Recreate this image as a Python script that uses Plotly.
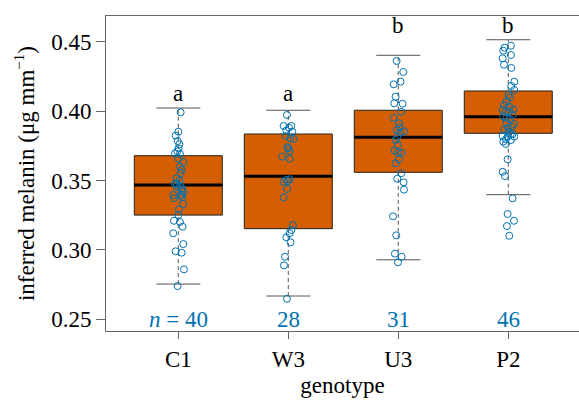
import plotly.graph_objects as go

# ---------------- data ----------------
genotypes = ["C1", "W3", "U3", "P2"]
letters = ["a", "a", "b", "b"]

q1 = [0.3251, 0.3153, 0.3559, 0.3840]
median = [0.3468, 0.3530, 0.3811, 0.3960]
q3 = [0.3679, 0.3835, 0.4006, 0.4145]
whisker_low = [0.2754, 0.2668, 0.2929, 0.3398]
whisker_high = [0.4022, 0.4006, 0.4402, 0.4514]

c1_values = [0.3991, 0.3852, 0.3823, 0.3785, 0.3761, 0.3732, 0.3696, 0.3691, 0.3660, 0.3633,
             0.3576, 0.3552, 0.3516, 0.3475, 0.3455, 0.3431, 0.3419, 0.3396, 0.3396, 0.3379,
             0.3372, 0.3331, 0.3293, 0.3251, 0.3210, 0.3201, 0.3167, 0.3120, 0.3042, 0.2990,
             0.2980, 0.2860, 0.2740, 0.3480, 0.3462, 0.3445, 0.3500, 0.3600, 0.3710, 0.3390]
w3_values = [0.3972, 0.3893, 0.3893, 0.3859, 0.3852, 0.3821, 0.3804, 0.3799, 0.3732, 0.3713,
             0.3672, 0.3657, 0.3509, 0.3491, 0.3496, 0.3439, 0.3379, 0.3179, 0.3143, 0.3120,
             0.3091, 0.3055, 0.2951, 0.2889, 0.2648, 0.3880, 0.3740, 0.3505]
u3_values = [0.4361, 0.4282, 0.4212, 0.4193, 0.4104, 0.4056, 0.4053, 0.3994, 0.3952, 0.3912,
             0.3883, 0.3864, 0.3854, 0.3847, 0.3816, 0.3792, 0.3756, 0.3715, 0.3703, 0.3700,
             0.3653, 0.3624, 0.3552, 0.3513, 0.3487, 0.3434, 0.3242, 0.3105, 0.2973, 0.2951,
             0.2911]
p2_values = [0.4471, 0.4457, 0.4435, 0.4404, 0.4380, 0.4334, 0.4311, 0.4212, 0.4181, 0.4152,
             0.4116, 0.4099, 0.4068, 0.4044, 0.4013, 0.4008, 0.3996, 0.3972, 0.3960, 0.3941,
             0.3916, 0.3907, 0.3888, 0.3864, 0.3852, 0.3835, 0.3821, 0.3816, 0.3816, 0.3797,
             0.3792, 0.3780, 0.3763, 0.3653, 0.3563, 0.3532, 0.3372, 0.3259, 0.3210, 0.3172,
             0.3102, 0.4030, 0.3950, 0.3880, 0.3830, 0.3990]

# horizontal jitter of the points (in 1/330 of a category unit)
c1_jitter = [7, 0, -8, -2, 3, 1, -10, 5, 0, 15, 10, 7, -5, -10, -5, 10, 15, -15, 10, 12,
             -13, 15, 2, 0, -13, 5, 13, -15, 15, -8, 10, 17, -2, -5, 5, 11, 3, 5, -3, 5]
w3_jitter = [-4, -14, 9, -6, 12, -8, 6, 16, 0, 4, -18, 4, 4, -14, 0, -4, -14, 14, 9, 4,
             -6, 7, -10, -13, -4, 2, -2, -6]
u3_jitter = [-5, 15, 7, -14, -8, -12, 13, 9, -14, 2, 4, -4, 18, 7, -3, -8, -1, -11, 0, 10,
             2, -8, 9, -3, 16, 17, -16, -6, -10, 10, -1]
p2_jitter = [8, -11, -15, 8, -17, -13, 9, 18, 9, 18, 0, 5, -5, -13, 15, -17, 3, 13, -15, 5,
             -5, 17, 11, -12, 1, 13, -17, -2, 18, -7, 8, -15, -7, -2, -17, -10, 13, -2, 17, -4,
             3, 3, -5, -1, 7, -9]

group_values = [c1_values, w3_values, u3_values, p2_values]
group_jitter = [c1_jitter, w3_jitter, u3_jitter, p2_jitter]

# ---------------- styles ----------------
ORANGE = "#D55E00"
BLUE = "#0072B2"
FONT = "Liberation Serif"
FS = 23
JITTER_UNIT = 1 / 330.0
BOX_W = 0.8
CAP_HALF = 0.2

xs = list(range(1, len(genotypes) + 1))

fig = go.Figure()

# whiskers (dashed)
wx, wy = [], []
for x, lo, a, b, hi in zip(xs, whisker_low, q1, q3, whisker_high):
    wx += [x, x, None, x, x, None]
    wy += [b, hi, None, lo, a, None]
fig.add_trace(go.Scatter(x=wx, y=wy, mode="lines", line=dict(color="#555555", width=1, dash="4px,3px"),
                         hoverinfo="skip", showlegend=False))

# caps
cx, cy = [], []
for x, lo, hi in zip(xs, whisker_low, whisker_high):
    cx += [x - CAP_HALF, x + CAP_HALF, None, x - CAP_HALF, x + CAP_HALF, None]
    cy += [hi, hi, None, lo, lo, None]
fig.add_trace(go.Scatter(x=cx, y=cy, mode="lines", line=dict(color="#555555", width=1),
                         hoverinfo="skip", showlegend=False))

# boxes
fig.add_trace(go.Box(x=xs, q1=q1, median=median, q3=q3, lowerfence=q1, upperfence=q3,
                     width=BOX_W, fillcolor=ORANGE, line=dict(color="#222222", width=1),
                     whiskerwidth=0, boxpoints=False, hoverinfo="skip", showlegend=False))

# medians (thick)
mx, my = [], []
for x, m in zip(xs, median):
    mx += [x - BOX_W / 2, x + BOX_W / 2, None]
    my += [m, m, None]
fig.add_trace(go.Scatter(x=mx, y=my, mode="lines", line=dict(color="black", width=3),
                         hoverinfo="skip", showlegend=False))

# points
for x, vals, jit in zip(xs, group_values, group_jitter):
    fig.add_trace(go.Scatter(x=[x + j * JITTER_UNIT for j in jit], y=vals, mode="markers",
                             marker=dict(symbol="circle-open", size=7, color=BLUE,
                                         line=dict(width=1, color=BLUE)),
                             hoverinfo="skip", showlegend=False))

annotations = []
# significance letters: placed at the highest whisker of their letter group
for i, (x, let) in enumerate(zip(xs, letters)):
    top = max(h for h, l in zip(whisker_high, letters) if l == let)
    annotations.append(dict(x=x, y=top, text=let, showarrow=False, yanchor="bottom",
                            xanchor="center", font=dict(family=FONT, size=FS, color="black")))
# sample sizes
for i, (x, vals) in enumerate(zip(xs, group_values)):
    txt = f"<i>n</i> = {len(vals)}" if i == 0 else str(len(vals))
    annotations.append(dict(x=x, y=0.25, text=txt, showarrow=False, yanchor="middle",
                            xanchor="center", font=dict(family=FONT, size=FS, color=BLUE)))

fig.update_layout(
    width=579, height=401,
    margin=dict(l=106, r=0, t=16, b=70),
    plot_bgcolor="white", paper_bgcolor="white",
    font=dict(family=FONT, size=FS, color="black"),
    annotations=annotations,
    xaxis=dict(range=[0.3427, 4.643], tickmode="array", tickvals=xs, ticktext=genotypes,
               showgrid=False, zeroline=False, showline=True, linecolor="#666666", linewidth=1,
               mirror=True, ticks="outside", ticklen=7, tickcolor="#666666",
               tickfont=dict(family=FONT, size=FS, color="black"),
               title=dict(text="genotype", font=dict(family=FONT, size=FS, color="black"), standoff=6)),
    yaxis=dict(range=[0.2416, 0.4685], tickmode="array", tickvals=[0.25, 0.30, 0.35, 0.40, 0.45],
               ticktext=["0.25", "0.30", "0.35", "0.40", "0.45"],
               showgrid=False, zeroline=False, showline=True, linecolor="#666666", linewidth=1,
               ticks="outside", ticklen=9, tickcolor="#666666",
               tickfont=dict(family=FONT, size=FS, color="black"),
               title=dict(text="inferred melanin (μg mm<sup><span style='font-size:15px'>−1</span></sup>)",
                          font=dict(family=FONT, size=FS, color="black"), standoff=10)),
)

fig.write_html("out.html")
